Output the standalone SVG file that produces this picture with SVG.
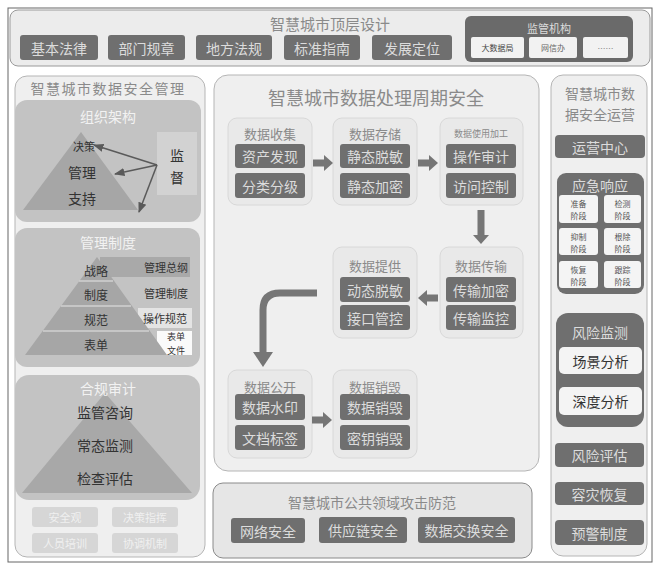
<svg xmlns="http://www.w3.org/2000/svg" width="660" height="567" viewBox="0 0 660 567">
<defs>
<style>
text{font-family:"Noto Sans CJK SC","Liberation Sans",sans-serif;text-anchor:middle;dominant-baseline:central}
.panel{fill:#efefef;stroke:#b5b5b5;stroke-width:1}
.dark{fill:#6f6f6f}
.dt{fill:#dcdcdc;font-size:14px}
.stage{fill:#e9e9e9;stroke:#d8d8d8;stroke-width:1}
.st{fill:#8a8a8a;font-size:13px}
.ptitle{fill:#8a8a8a}
.mid{fill:#c3c3c3}
.pyr{fill:#a6a6a6}
.wt{fill:#f2f2f2}
.bt{fill:#333;font-size:14px}
.wbox{fill:#f4f4f4}
.gbox{fill:#d6d6d6}
.garrow{fill:#767676}
</style>
<marker id="ah" viewBox="0 0 10 10" refX="9" refY="5" markerWidth="7" markerHeight="7" orient="auto"><path d="M0,1 L10,5 L0,9 z" fill="#5a5a5a"/></marker>
</defs>
<rect width="660" height="567" fill="#ffffff"/>
<rect x="8" y="8" width="644" height="554" fill="none" stroke="#666" stroke-width="1"/>

<g id="top">
<rect x="10" y="10" width="640" height="56" rx="8" fill="#ececec" stroke="#9a9a9a"/>
<text x="330" y="23" class="ptitle" font-size="15">智慧城市顶层设计</text>
<rect x="20" y="35" width="78" height="25" rx="3" class="dark"/><text x="59" y="47.5" class="dt">基本法律</text>
<rect x="108" y="35" width="77" height="25" rx="3" class="dark"/><text x="146.5" y="47.5" class="dt">部门规章</text>
<rect x="196" y="35" width="76" height="25" rx="3" class="dark"/><text x="234" y="47.5" class="dt">地方法规</text>
<rect x="284" y="35" width="76" height="25" rx="3" class="dark"/><text x="322" y="47.5" class="dt">标准指南</text>
<rect x="372" y="35" width="80" height="25" rx="3" class="dark"/><text x="412" y="47.5" class="dt">发展定位</text>
<g id="jgjg">
<rect x="465" y="16" width="168" height="46" rx="6" fill="#6a6a6a"/>
<text x="549" y="28" fill="#dcdcdc" font-size="11">监管机构</text>
<rect x="471" y="37" width="53" height="21" rx="2" fill="#f2f2f2"/><text x="497.5" y="47.5" fill="#444" font-size="8">大数据局</text>
<rect x="529" y="37" width="48" height="21" rx="2" fill="#f2f2f2"/><text x="553" y="47.5" fill="#666" font-size="8">网信办</text>
<rect x="583" y="37" width="45" height="21" rx="2" fill="#f2f2f2"/><text x="605.5" y="48" fill="#888" font-size="8">……</text>
</g>
</g>

<g id="left">
<rect x="15" y="76" width="190" height="481" rx="12" class="panel" stroke="#d0d0d0"/>
<text x="108" y="88" class="ptitle" font-size="14" letter-spacing="1.5">智慧城市数据安全管理</text>
<g id="zzjg">
<rect x="15" y="100" width="186" height="122" rx="12" class="mid"/>
<text x="108" y="116" class="wt" font-size="14">组织架构</text>
<polygon points="81,132 23,210 138,210" class="pyr"/>
<rect x="157" y="132" width="40" height="63" fill="#d2d2d2"/>
<text x="84" y="146" fill="#333" font-size="11">决策</text>
<text x="82" y="172" class="bt">管理</text>
<text x="82" y="198" class="bt">支持</text>
<text x="177" y="155" class="bt">监</text>
<text x="177" y="177" class="bt">督</text>
</g>
<g id="zdzd">
<rect x="15" y="228" width="185" height="139" rx="12" class="mid"/>
<text x="108" y="242" class="wt" font-size="14">管理制度</text>
<rect x="100" y="257" width="90" height="20" fill="#a9a9a9"/>
<rect x="138" y="308" width="54" height="20" fill="#e4e4e4"/>
<rect x="157" y="331" width="35" height="24" fill="#fafafa"/>
<polygon points="97,257 25,355 167,355" class="pyr"/>
<line x1="79" y1="281" x2="113" y2="281" stroke="#d0d0d0" stroke-width="1.5"/>
<line x1="61" y1="306" x2="131" y2="306" stroke="#d0d0d0" stroke-width="1.5"/>
<line x1="43" y1="331" x2="149" y2="331" stroke="#d0d0d0" stroke-width="1.5"/>
<text x="96" y="270" fill="#333" font-size="12">战略</text>
<text x="96" y="294" fill="#333" font-size="12">制度</text>
<text x="96" y="319" fill="#333" font-size="12">规范</text>
<text x="96" y="344" fill="#333" font-size="12">表单</text>
<text x="166" y="267" fill="#333" font-size="11">管理总纲</text>
<text x="166" y="293" fill="#333" font-size="11">管理制度</text>
<text x="165" y="318" fill="#333" font-size="11">操作规范</text>
<text x="176" y="336" fill="#333" font-size="9">表单</text>
<text x="176" y="350" fill="#333" font-size="9">文件</text>
</g>
<g id="hgsj">
<rect x="15" y="375" width="185" height="125" rx="14" class="mid"/>
<polygon points="105,393 22,493 192,493" fill="#a8a8a8"/>
<text x="108" y="388" class="wt" font-size="14">合规审计</text>
<text x="105" y="412" class="bt">监管咨询</text>
<text x="105" y="445" class="bt">常态监测</text>
<text x="105" y="478" class="bt">检查评估</text>
</g>
<g id="lsmall">
<rect x="32" y="507" width="66" height="20" rx="3" class="gbox"/><text x="65" y="517" fill="#f0f0f0" font-size="11">安全观</text>
<rect x="112" y="507" width="66" height="20" rx="3" class="gbox"/><text x="145" y="517" fill="#f0f0f0" font-size="11">决策指挥</text>
<rect x="32" y="533" width="66" height="20" rx="3" class="gbox"/><text x="65" y="543" fill="#f0f0f0" font-size="11">人员培训</text>
<rect x="112" y="533" width="66" height="20" rx="3" class="gbox"/><text x="145" y="543" fill="#f0f0f0" font-size="11">协调机制</text>
</g>
</g>

<g id="center">
<rect x="214" y="75" width="325" height="396" rx="14" class="panel" stroke="#d0d0d0"/>
<text x="376" y="97" class="ptitle" font-size="18">智慧城市数据处理周期安全</text>
<g id="s1">
<rect x="228" y="118" width="84" height="87" rx="9" class="stage"/>
<text x="270" y="133" class="st">数据收集</text>
<rect x="235" y="144" width="70" height="24" rx="3" class="dark"/><text x="270" y="156" class="dt">资产发现</text>
<rect x="235" y="173" width="70" height="25" rx="3" class="dark"/><text x="270" y="185.5" class="dt">分类分级</text>
</g>
<g id="s2">
<rect x="333" y="118" width="84" height="87" rx="9" class="stage"/>
<text x="375" y="133" class="st">数据存储</text>
<rect x="340" y="144" width="70" height="24" rx="3" class="dark"/><text x="375" y="156" class="dt">静态脱敏</text>
<rect x="340" y="173" width="70" height="25" rx="3" class="dark"/><text x="375" y="185.5" class="dt">静态加密</text>
</g>
<g id="s3">
<rect x="440" y="118" width="83" height="87" rx="9" class="stage"/>
<text x="481" y="133" fill="#8a8a8a" style="font-size:9px">数据使用加工</text>
<rect x="446" y="144" width="70" height="24" rx="3" class="dark"/><text x="481" y="156" class="dt">操作审计</text>
<rect x="446" y="173" width="70" height="25" rx="3" class="dark"/><text x="481" y="185.5" class="dt">访问控制</text>
</g>
<g id="s4">
<rect x="440" y="247" width="83" height="91" rx="9" class="stage"/>
<text x="481" y="265" class="st">数据传输</text>
<rect x="446" y="277" width="70" height="25" rx="3" class="dark"/><text x="481" y="289.5" class="dt">传输加密</text>
<rect x="446" y="305" width="70" height="25" rx="3" class="dark"/><text x="481" y="317.5" class="dt">传输监控</text>
</g>
<g id="s5">
<rect x="333" y="247" width="84" height="91" rx="9" class="stage"/>
<text x="375" y="265" class="st">数据提供</text>
<rect x="340" y="277" width="70" height="25" rx="3" class="dark"/><text x="375" y="289.5" class="dt">动态脱敏</text>
<rect x="340" y="305" width="70" height="25" rx="3" class="dark"/><text x="375" y="317.5" class="dt">接口管控</text>
</g>
<g id="s6">
<rect x="228" y="370" width="84" height="88" rx="9" class="stage"/>
<text x="270" y="386" class="st">数据公开</text>
<rect x="235" y="394" width="70" height="26" rx="3" class="dark"/><text x="270" y="407" class="dt">数据水印</text>
<rect x="235" y="425" width="70" height="25" rx="3" class="dark"/><text x="270" y="437.5" class="dt">文档标签</text>
</g>
<g id="s7">
<rect x="333" y="370" width="84" height="88" rx="9" class="stage"/>
<text x="375" y="386" class="st">数据销毁</text>
<rect x="340" y="394" width="70" height="26" rx="3" class="dark"/><text x="375" y="407" class="dt">数据销毁</text>
<rect x="340" y="425" width="70" height="25" rx="3" class="dark"/><text x="375" y="437.5" class="dt">密钥销毁</text>
</g>
</g>

<g id="connectors">
<polygon points="313,159.5 324,159.5 324,155 333,163 324,171 324,166.5 313,166.5" class="garrow"/>
<polygon points="418,159.5 429,159.5 429,155 438,163 429,171 429,166.5 418,166.5" class="garrow"/>
<polygon points="477.5,210 484.5,210 484.5,235 489,235 481,244 473,235 477.5,235" class="garrow"/>
<polygon points="438,294.5 427,294.5 427,290 418,298 427,306 427,301.5 438,301.5" class="garrow"/>
<polygon points="312,416.5 323,416.5 323,412 332,420 323,428 323,423.5 312,423.5" class="garrow"/>
<path d="M317,293 L280,293 Q263,293 263,310 L263,353" fill="none" stroke="#767676" stroke-width="7"/>
<polygon points="253,352 273,352 263,367" class="garrow"/>
<line x1="157" y1="165" x2="94" y2="145" stroke="#5a5a5a" stroke-width="1.5" marker-end="url(#ah)"/>
<line x1="157" y1="165" x2="115" y2="174" stroke="#5a5a5a" stroke-width="1.5" marker-end="url(#ah)"/>
<line x1="157" y1="165" x2="139" y2="212" stroke="#5a5a5a" stroke-width="1.5" marker-end="url(#ah)"/>
</g>

<g id="bottom">
<rect x="213" y="483" width="319" height="75" rx="10" fill="#e6e6e6" stroke="#8a8a8a"/>
<text x="372" y="502" class="ptitle" font-size="14">智慧城市公共领域攻击防范</text>
<rect x="231" y="518" width="74" height="25" rx="3" class="dark"/><text x="268" y="530.5" class="dt">网络安全</text>
<rect x="319" y="517" width="88" height="26" rx="3" class="dark"/><text x="363" y="530" class="dt">供应链安全</text>
<rect x="418" y="517" width="97" height="26" rx="3" class="dark"/><text x="466.5" y="530" class="dt">数据交换安全</text>
</g>

<g id="right">
<rect x="551" y="75" width="96" height="481" rx="12" class="panel" stroke="#d0d0d0"/>
<text x="600" y="93" class="ptitle" font-size="14">智慧城市数</text>
<text x="600" y="114" class="ptitle" font-size="14">据安全运营</text>
<rect x="555" y="135" width="90" height="23" rx="4" class="dark"/><text x="600" y="146.5" class="dt">运营中心</text>
<g id="yjxy">
<rect x="557" y="173" width="87" height="121" rx="9" class="dark"/>
<text x="600" y="185" class="dt">应急响应</text>
<rect x="559" y="195" width="39" height="28" rx="3" class="wbox"/><text x="578.5" y="203" fill="#555" font-size="8">准备</text><text x="578.5" y="215" fill="#555" font-size="8">阶段</text>
<rect x="604" y="195" width="37" height="28" rx="3" class="wbox"/><text x="622.5" y="203" fill="#555" font-size="8">检测</text><text x="622.5" y="215" fill="#555" font-size="8">阶段</text>
<rect x="559" y="228" width="39" height="27" rx="3" class="wbox"/><text x="578.5" y="236" fill="#555" font-size="8">抑制</text><text x="578.5" y="248" fill="#555" font-size="8">阶段</text>
<rect x="604" y="228" width="37" height="27" rx="3" class="wbox"/><text x="622.5" y="236" fill="#555" font-size="8">根除</text><text x="622.5" y="248" fill="#555" font-size="8">阶段</text>
<rect x="559" y="261" width="39" height="27" rx="3" class="wbox"/><text x="578.5" y="269" fill="#555" font-size="8">恢复</text><text x="578.5" y="281" fill="#555" font-size="8">阶段</text>
<rect x="604" y="261" width="37" height="27" rx="3" class="wbox"/><text x="622.5" y="269" fill="#555" font-size="8">跟踪</text><text x="622.5" y="281" fill="#555" font-size="8">阶段</text>
</g>
<g id="fxjc">
<rect x="556" y="313" width="88" height="114" rx="12" class="dark"/>
<text x="600" y="332" class="dt">风险监测</text>
<rect x="559" y="347" width="83" height="27" rx="5" class="wbox"/><text x="600.5" y="360.5" class="bt">场景分析</text>
<rect x="559" y="387" width="83" height="28" rx="5" class="wbox"/><text x="600.5" y="401" class="bt">深度分析</text>
</g>
<rect x="555" y="443" width="89" height="24" rx="4" class="dark"/><text x="599.5" y="455" class="dt">风险评估</text>
<rect x="555" y="482" width="89" height="23" rx="4" class="dark"/><text x="599.5" y="493.5" class="dt">容灾恢复</text>
<rect x="555" y="520" width="89" height="25" rx="4" class="dark"/><text x="599.5" y="532.5" class="dt">预警制度</text>
</g>
</svg>
